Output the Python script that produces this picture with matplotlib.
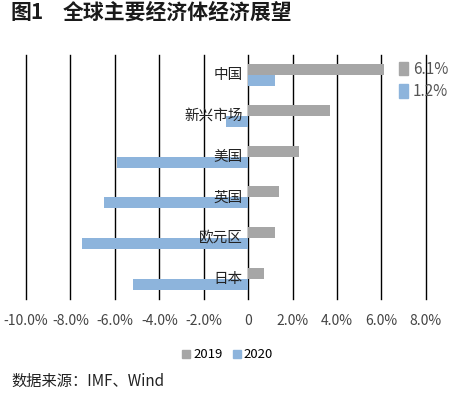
import matplotlib
matplotlib.use('Agg')
import matplotlib.pyplot as plt
from matplotlib.patches import Patch
import numpy as np

plt.rcParams['font.family'] = ['Noto Sans CJK SC', 'DejaVu Sans']

regions = ['中国', '新兴市场', '美国', '英国', '欧元区', '日本']
g2019 = [6.1, 3.7, 2.3, 1.4, 1.2, 0.7]
g2020 = [1.2, -1.0, -5.9, -6.5, -7.5, -5.2]
xticks = [-10, -8, -6, -4, -2, 0, 2, 4, 6, 8]
xlabels = ['-10.0%', '-8.0%', '-6.0%', '-4.0%', '-2.0%', '0', '2.0%', '4.0%', '6.0%', '8.0%']

c19 = '#a6a6a6'
c20 = '#8db4dc'

fig = plt.figure(figsize=(4.57, 3.93), dpi=100)
ax = fig.add_axes([0.057, 0.239, 0.875, 0.621])

y = np.arange(len(regions))
h = 0.27
ax.barh(y - h / 2, g2019, height=h, color=c19, zorder=2)
ax.barh(y + h / 2, g2020, height=h, color=c20, zorder=2)

# vertical gridlines (drawn unclipped so the edge ones stay full width)
for xv in xticks:
    ax.axvline(xv, color='black', lw=1.0, zorder=1, clip_on=False)

for yi, name in zip(y, regions):
    ax.text(-0.25, yi, name, ha='right', va='center', fontsize=10.5,
            color='#222222', zorder=3)

ax.set_xlim(-10, 8)
ax.set_ylim(len(regions) - 0.5, -0.5)
ax.set_xticks(xticks)
ax.set_xticklabels(xlabels, fontsize=10, color='#444444')
ax.tick_params(axis='x', length=0, pad=11)
ax.set_yticks([])
for s in ax.spines.values():
    s.set_visible(False)

# data-label style legend, top right
top = fig.legend(handles=[Patch(color=c19), Patch(color=c20)],
                 labels=['6.1%', '1.2%'], loc='upper left',
                 bbox_to_anchor=(0.857, 0.865), frameon=False,
                 fontsize=11, handlelength=0.6, handleheight=1.0,
                 handletextpad=0.3, labelspacing=0.35, borderpad=0)
for t in top.get_texts():
    t.set_color('#555555')

fig.legend(handles=[Patch(color=c19), Patch(color=c20)],
           labels=['2019', '2020'], loc='center',
           bbox_to_anchor=(0.498, 0.097), ncol=2, frameon=False,
           fontsize=9.5, handlelength=0.6, handleheight=0.6,
           handletextpad=0.2, columnspacing=0.8, borderpad=0)

fig.text(0.024, 0.968, '图1', fontsize=15, fontweight='bold', va='center',
         color='#1a1a1a')
fig.text(0.137, 0.968, '全球主要经济体经济展望', fontsize=15, fontweight='bold',
         va='center', color='#1a1a1a')
fig.text(0.024, 0.03, '数据来源：IMF、Wind', fontsize=11, va='center',
         color='#222222')

fig.savefig('out.png', dpi=100)
